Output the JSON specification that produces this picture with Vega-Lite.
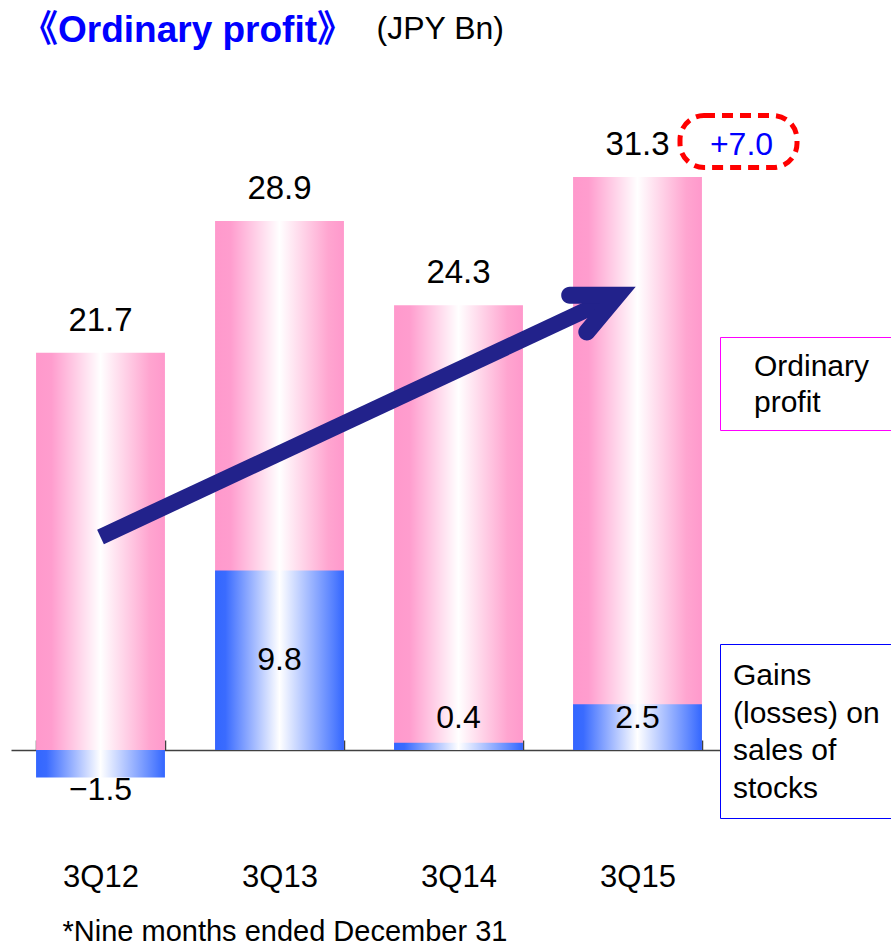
{
  "$schema": "https://vega.github.io/schema/vega-lite/v6.json",
  "width": 716,
  "height": 659,
  "autosize": {"type": "none"},
  "padding": {"left": 11, "top": 91, "right": 164, "bottom": 196},
  "background": "white",
  "title": {
    "text": "《Ordinary profit》",
    "anchor": "start",
    "frame": "group",
    "font": "Liberation Sans, Noto Sans CJK JP",
    "fontSize": 37,
    "fontWeight": "bold",
    "color": "#0000FF",
    "baseline": "alphabetic",
    "offset": -67,
    "dx": 10
  },
  "config": {
    "view": {"stroke": null},
    "font": "Liberation Sans",
    "axisX": {
      "labelFont": "Liberation Sans",
      "labelFontSize": 31,
      "labelColor": "black",
      "labelAngle": 0,
      "labelPadding": 146,
      "labelBaseline": "alphabetic",
      "tickSize": -10,
      "tickColor": "#404040",
      "tickWidth": 1.5,
      "domainColor": "#404040",
      "domainWidth": 1.5,
      "tickBand": "extent",
      "grid": false,
      "titleFont": "Liberation Sans",
      "titleFontSize": 29,
      "titleFontWeight": "normal",
      "titleColor": "black",
      "titleX": 51,
      "titleY": 190,
      "titleAlign": "left",
      "titleBaseline": "alphabetic",
      "zindex": 1
    },
    "axisY": {
      "domain": false,
      "ticks": false,
      "labels": false,
      "grid": false,
      "titleAngle": 0,
      "titleX": 365,
      "titleY": -53,
      "titleAlign": "left",
      "titleBaseline": "alphabetic",
      "titleFont": "Liberation Sans",
      "titleFontSize": 32,
      "titleFontWeight": "normal",
      "titleColor": "black"
    }
  },
  "datasets": {
    "results": [
      {"quarter": "3Q12", "series": "Ordinary profit", "value": 21.7},
      {"quarter": "3Q13", "series": "Ordinary profit", "value": 28.9},
      {"quarter": "3Q14", "series": "Ordinary profit", "value": 24.3},
      {"quarter": "3Q15", "series": "Ordinary profit", "value": 31.3},
      {"quarter": "3Q12", "series": "Gains (losses) on sales of stocks", "value": -1.5},
      {"quarter": "3Q13", "series": "Gains (losses) on sales of stocks", "value": 9.8},
      {"quarter": "3Q14", "series": "Gains (losses) on sales of stocks", "value": 0.4},
      {"quarter": "3Q15", "series": "Gains (losses) on sales of stocks", "value": 2.5}
    ],
    "change": [
      {"quarter": "3Q15", "ordinary_profit": 31.3, "change": 7.0}
    ],
    "trend": [
      {"xi": 0, "v": 11.64},
      {"xi": 2.85, "v": 24.66}
    ],
    "trend_head": [
      {"xi": 2.99, "v": 25.3}
    ]
  },
  "layer": [
    {
      "data": {"name": "results"},
      "layer": [
        {
          "transform": [{"filter": "datum.series === 'Ordinary profit'"}],
          "mark": {
            "type": "bar",
            "color": {
              "gradient": "linear", "x1": 0, "y1": 0, "x2": 1, "y2": 0,
              "stops": [
                {"offset": 0, "color": "#FF99CC"},
                {"offset": 0.12, "color": "#FF9DCE"},
                {"offset": 0.5, "color": "#FFFFFF"},
                {"offset": 0.88, "color": "#FFA5D0"},
                {"offset": 1, "color": "#FF99CC"}
              ]
            }
          },
          "encoding": {
            "x": {"field": "quarter", "type": "nominal", "title": "*Nine months ended December 31",
                  "scale": {"domain": ["3Q12", "3Q13", "3Q14", "3Q15"], "paddingInner": 0.28, "paddingOuter": 0.14}},
            "y": {"field": "value", "type": "quantitative", "title": "(JPY Bn)", "scale": {"domain": [0, 36], "nice": false}},
            "strokeDash": {
              "field": "series", "type": "nominal",
              "legend": {
                "orient": "none", "legendX": 709, "legendY": 246,
                "values": [],
                "title": ["\u2800Ordinary\u2800", "\u2800profit"],
                "titleFont": "Liberation Sans", "titleFontSize": 30, "titleFontWeight": "normal",
                "titleColor": "black", "titleLineHeight": 36, "titleBaseline": "line-top",
                "titlePadding": 0, "titleLimit": 1000, "padding": 12,
                "strokeColor": "#FF00FF", "fillColor": "white"
              }
            }
          }
        },
        {
          "transform": [{"filter": "datum.series !== 'Ordinary profit'"}],
          "mark": {
            "type": "bar",
            "color": {
              "gradient": "linear", "x1": 0, "y1": 0, "x2": 1, "y2": 0,
              "stops": [
                {"offset": 0, "color": "#3366FF"},
                {"offset": 0.08, "color": "#3A6BFF"},
                {"offset": 0.5, "color": "#FFFFFF"},
                {"offset": 0.92, "color": "#5580FF"},
                {"offset": 1, "color": "#3366FF"}
              ]
            }
          },
          "encoding": {
            "x": {"field": "quarter", "type": "nominal", "title": "*Nine months ended December 31",
                  "scale": {"domain": ["3Q12", "3Q13", "3Q14", "3Q15"], "paddingInner": 0.28, "paddingOuter": 0.14}},
            "y": {"field": "value", "type": "quantitative", "title": "(JPY Bn)", "scale": {"domain": [0, 36], "nice": false}},
            "strokeDash": {
              "field": "series", "type": "nominal",
              "legend": {
                "orient": "none", "legendX": 709, "legendY": 553,
                "values": [],
                "title": ["Gains", "(losses) on", "sales of", "stocks"],
                "titleFont": "Liberation Sans", "titleFontSize": 30, "titleFontWeight": "normal",
                "titleColor": "black", "titleLineHeight": 37.7, "titleBaseline": "line-top",
                "titlePadding": 0, "titleLimit": 1000, "padding": 13,
                "strokeColor": "#0000FF", "fillColor": "white"
              }
            }
          }
        },
        {
          "transform": [{"filter": "datum.series === 'Ordinary profit'"}],
          "mark": {"type": "text", "font": "Liberation Sans", "fontSize": 33, "baseline": "alphabetic", "align": "center", "dy": -22, "color": "black"},
          "encoding": {
            "x": {"field": "quarter", "type": "nominal", "title": "*Nine months ended December 31",
                  "scale": {"domain": ["3Q12", "3Q13", "3Q14", "3Q15"], "paddingInner": 0.28, "paddingOuter": 0.14}},
            "y": {"field": "value", "type": "quantitative", "title": "(JPY Bn)", "scale": {"domain": [0, 36], "nice": false}},
            "text": {"field": "value", "type": "quantitative", "format": ".1f"}
          }
        },
        {
          "transform": [
            {"filter": "datum.series !== 'Ordinary profit'"},
            {"calculate": "datum.value < 0 ? datum.value - 0.7 : max(datum.value / 2, 1.75)", "as": "label_y"}
          ],
          "mark": {"type": "text", "font": "Liberation Sans", "fontSize": 32, "baseline": "middle", "align": "center", "color": "black"},
          "encoding": {
            "x": {"field": "quarter", "type": "nominal", "title": "*Nine months ended December 31",
                  "scale": {"domain": ["3Q12", "3Q13", "3Q14", "3Q15"], "paddingInner": 0.28, "paddingOuter": 0.14}},
            "y": {"field": "label_y", "type": "quantitative", "title": "(JPY Bn)", "scale": {"domain": [0, 36], "nice": false}},
            "text": {"field": "value", "type": "quantitative", "format": ".1f"}
          }
        },
        {
          "data": {"name": "change"},
          "mark": {
            "type": "point",
            "shape": "M -0.59 -0.444 L 0.59 -0.444 A 0.41 0.41 0 0 1 1 -0.034 L 1 0.034 A 0.41 0.41 0 0 1 0.59 0.444 L -0.59 0.444 A 0.41 0.41 0 0 1 -1 0.034 L -1 -0.034 A 0.41 0.41 0 0 1 -0.59 -0.444 Z",
            "size": 13689, "filled": false, "color": "#FF0000", "stroke": "#FF0000",
            "strokeWidth": 5, "strokeDash": [11, 7], "opacity": 1,
            "xOffset": 101, "yOffset": -35.5
          },
          "encoding": {
            "x": {"field": "quarter", "type": "nominal", "title": "*Nine months ended December 31",
                  "scale": {"domain": ["3Q12", "3Q13", "3Q14", "3Q15"], "paddingInner": 0.28, "paddingOuter": 0.14}},
            "y": {"field": "ordinary_profit", "type": "quantitative", "title": "(JPY Bn)", "scale": {"domain": [0, 36], "nice": false}}
          }
        },
        {
          "data": {"name": "change"},
          "mark": {"type": "text", "font": "Liberation Sans", "fontSize": 32, "baseline": "alphabetic", "align": "center", "dy": -22, "dx": 104, "color": "#0000FF"},
          "encoding": {
            "x": {"field": "quarter", "type": "nominal", "title": "*Nine months ended December 31",
                  "scale": {"domain": ["3Q12", "3Q13", "3Q14", "3Q15"], "paddingInner": 0.28, "paddingOuter": 0.14}},
            "y": {"field": "ordinary_profit", "type": "quantitative", "title": "(JPY Bn)", "scale": {"domain": [0, 36], "nice": false}},
            "text": {"field": "change", "type": "quantitative", "format": "+.1f"}
          }
        }
      ],
      "resolve": {"scale": {"strokeDash": "independent"}, "legend": {"strokeDash": "independent"}}
    },
    {
      "layer": [
        {
          "data": {"name": "trend"},
          "mark": {"type": "line", "color": "#22228B", "strokeWidth": 16, "strokeCap": "butt"},
          "encoding": {
            "x": {"field": "xi", "type": "quantitative", "axis": null, "scale": {"domain": [-0.5, 3.5], "nice": false, "zero": false}},
            "y": {"field": "v", "type": "quantitative", "title": "(JPY Bn)", "scale": {"domain": [0, 36], "nice": false}}
          }
        },
        {
          "data": {"name": "trend_head"},
          "mark": {
            "type": "point",
            "shape": "M 0 0 L -0.854 -0.399 A 0.121 0.121 0 0 0 -0.957 -0.179 L -0.574 0 L -0.957 0.179 A 0.121 0.121 0 0 0 -0.854 0.399 Z",
            "size": 19600, "filled": true, "color": "#22228B", "opacity": 1, "strokeWidth": 0, "angle": -25
          },
          "encoding": {
            "x": {"field": "xi", "type": "quantitative", "axis": null, "scale": {"domain": [-0.5, 3.5], "nice": false, "zero": false}},
            "y": {"field": "v", "type": "quantitative", "title": "(JPY Bn)", "scale": {"domain": [0, 36], "nice": false}}
          }
        }
      ]
    }
  ],
  "resolve": {"scale": {"x": "independent"}}
}
